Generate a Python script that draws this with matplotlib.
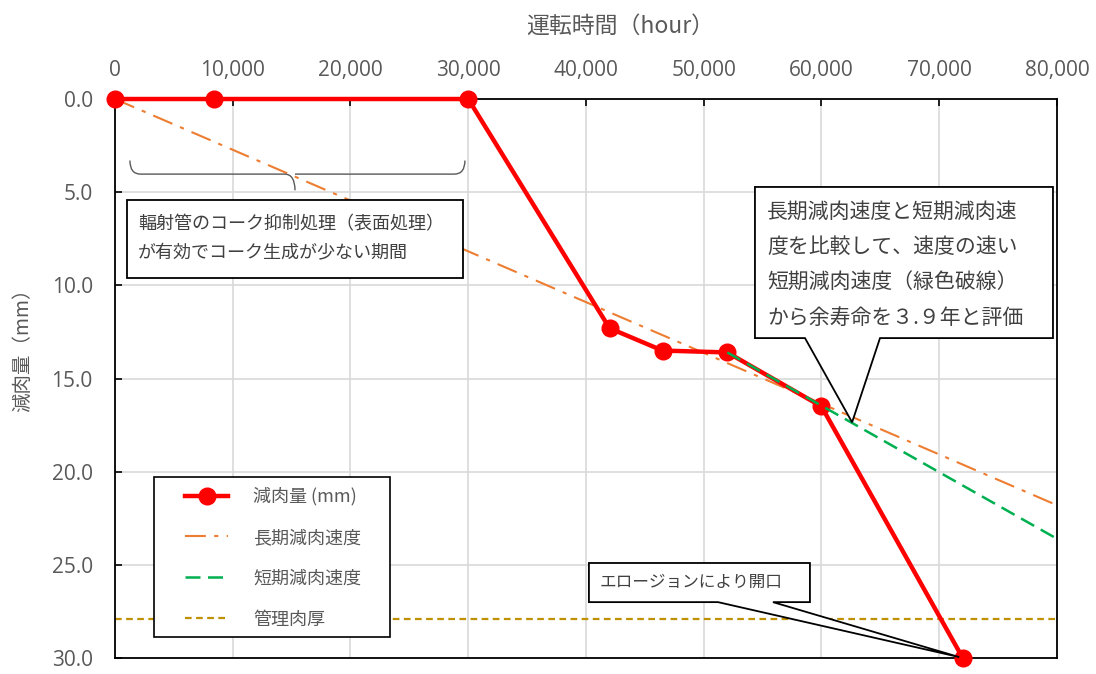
import matplotlib
matplotlib.use("Agg")
import matplotlib.pyplot as plt
from matplotlib.patches import Polygon, PathPatch, Rectangle
from matplotlib.path import Path
from matplotlib.ticker import FuncFormatter, MultipleLocator

plt.rcParams['font.family'] = ['Noto Sans CJK JP', 'DejaVu Sans']

# ---- data ----
hours = [0, 8400, 30000, 42000, 46500, 52000, 60000, 72000]
thinning = [0.0, 0.0, 0.0, 12.3, 13.5, 13.6, 16.5, 30.0]
long_x = [0, 80000]
long_y = [0.0, 21.8]
short_x = [52000, 80000]
short_y = [13.6, 23.6]
limit_thickness = 27.9

labels = ['減肉量 (mm)', '長期減肉速度', '短期減肉速度', '管理肉厚']
xlabel = '運転時間（hour）'
ylabel = '減肉量（mm）'
note_left = '輻射管のコーク抑制処理（表面処理）\nが有効でコーク生成が少ない期間'
note_right = '長期減肉速度と短期減肉速\n度を比較して、速度の速い\n短期減肉速度（緑色破線）\nから余寿命を３.９年と評価'
note_bottom = 'エロージョンにより開口'

GRAY = '#595959'
TXT = '#404040'

fig = plt.figure(figsize=(10.96, 6.74), dpi=100)
ax = fig.add_axes([0.1049, 0.0237, 0.8595, 0.8294])

ax.set_xlim(0, 80000)
ax.set_ylim(30, 0)
ax.xaxis.set_major_locator(MultipleLocator(10000))
ax.yaxis.set_major_locator(MultipleLocator(5))
ax.xaxis.set_major_formatter(FuncFormatter(lambda v, p: f'{int(v):,}'))
ax.yaxis.set_major_formatter(FuncFormatter(lambda v, p: f'{v:.1f}'))
ax.xaxis.tick_top()
ax.tick_params(axis='x', direction='in', length=5, width=1.2, pad=13,
               labelsize=15, labelcolor=GRAY, top=True, bottom=False)
ax.tick_params(axis='y', direction='in', length=5, width=1.2, pad=16,
               labelsize=15, labelcolor=GRAY)
for t in ax.get_xticklabels() + ax.get_yticklabels():
    t.set_fontfamily(['Open Sans', 'DejaVu Sans'])
ax.grid(True, color='#D9D9D9', lw=1.2, zorder=0)
ax.set_axisbelow(True)
for s in ax.spines.values():
    s.set_color('black')
    s.set_linewidth(1.3)

ax.set_xlabel(xlabel, fontsize=16.5, color=GRAY)
ax.xaxis.set_label_position('top')
ax.xaxis.set_label_coords(0.536, 1.118)
ax.set_ylabel(ylabel, fontsize=14, color=GRAY)
ax.yaxis.set_label_coords(-0.087, 0.56)

l_limit, = ax.plot([0, 80000], [limit_thickness, limit_thickness], color='#BF9000',
                   lw=1.6, ls=(0, (3, 2)), zorder=2)
l_long, = ax.plot(long_x, long_y, color='#ED7D31', lw=1.5,
                  ls=(0, (10, 4, 2, 4)), zorder=3)
l_short, = ax.plot(short_x, short_y, color='#00B050', lw=1.8,
                   ls=(0, (6, 3)), zorder=5)
l_main, = ax.plot(hours, thinning, color='#FF0000', lw=3.2, marker='o', ms=12,
                  zorder=4, clip_on=False)

# legend frame + legend
ax.add_patch(Rectangle((0.0414, 0.0376), 0.2505, 0.2862, transform=ax.transAxes,
                       fc='white', ec='black', lw=1.2, zorder=9))
leg = ax.legend([l_main, l_long, l_short, l_limit], labels,
                loc='upper left', bbox_to_anchor=(0.0743, 0.3055),
                fontsize=13, frameon=False, handlelength=2.4,
                handletextpad=1.39, labelspacing=1.27, borderpad=0,
                borderaxespad=0)
for t in leg.get_texts():
    t.set_color(GRAY)
leg.set_zorder(10)

# brace
x0, x1, xc = 1270, 29720, 15290
yt, ym, yb = 3.3, 4.03, 4.9
r = 900
verts = [(x0, yt), (x0, ym), (x0 + r, ym), (x0 + r, ym),
         (xc - r, ym), (xc - r, ym), (xc, ym), (xc, yb),
         (xc, ym), (xc + r, ym), (xc + r, ym), (x1 - r, ym),
         (x1 - r, ym), (x1, ym), (x1, yt)]
codes = [Path.MOVETO, Path.CURVE3, Path.CURVE3, Path.LINETO,
         Path.LINETO, Path.MOVETO, Path.CURVE3, Path.CURVE3,
         Path.MOVETO, Path.CURVE3, Path.CURVE3, Path.LINETO,
         Path.MOVETO, Path.CURVE3, Path.CURVE3]
ax.add_patch(PathPatch(Path(verts, codes), fc='none', ec='#595959', lw=1.0, zorder=6))

# left box
ax.add_patch(Polygon([(1020, 5.42), (29550, 5.42), (29550, 9.61), (1020, 9.61)],
                     closed=True, fc='white', ec='black', lw=1.3, zorder=7))
ax.text(1950, 7.5, note_left, fontsize=13, color=TXT, va='center', ha='left',
        linespacing=1.75, zorder=8)

# right callout
ax.add_patch(Polygon([(54350, 4.72), (79660, 4.72), (79660, 12.83), (64970, 12.83),
                      (62600, 17.35), (58600, 12.83), (54350, 12.83)],
                     closed=True, fc='white', ec='black', lw=1.3, zorder=7,
                     clip_on=False))
ax.text(55400, 8.9, note_right, fontsize=15, color=TXT, va='center', ha='left',
        linespacing=1.8, zorder=8)

# bottom callout
ax.add_patch(Polygon([(40250, 24.9), (59020, 24.9), (59020, 27.0), (55880, 27.0),
                      (71700, 29.95), (51210, 27.0), (40250, 27.0)],
                     closed=True, fc='white', ec='black', lw=1.3, zorder=7,
                     clip_on=False))
ax.text(41150, 25.95, note_bottom, fontsize=12, color=TXT, va='center', ha='left',
        zorder=8)

fig.savefig('out.png', dpi=100)
